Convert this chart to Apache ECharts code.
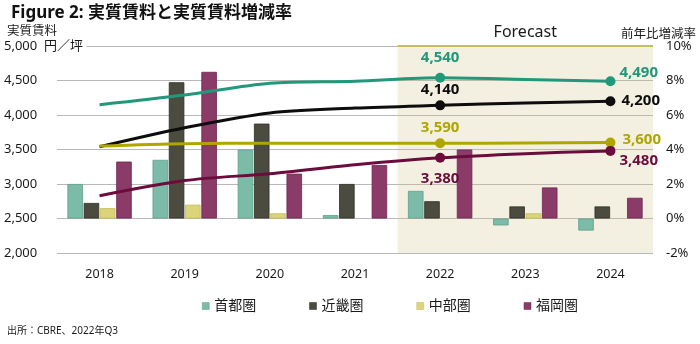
<!DOCTYPE html>
<html><head><meta charset="utf-8">
<script src="https://cdn.jsdelivr.net/npm/echarts@6/dist/echarts.min.js"></script>
<style>html,body{margin:0;padding:0;background:#fff}#c{width:700px;height:344px}</style>
</head><body><div id="c"></div>
<script>
// ---- data ----
const years = ['2018','2019','2020','2021','2022','2023','2024'];
const regions = ['首都圏','近畿圏','中部圏','福岡圏'];
// growth rates (%) – bars, right axis
const growthShutoken = [2.0, 3.4, 4.0, 0.2, 1.6, -0.4, -0.7];
const growthKinki    = [0.9, 7.9, 5.5, 2.0, 1.0, 0.7, 0.7];
const growthChubu    = [0.6, 0.8, 0.3, 0.0, 0.0, 0.3, 0.0];
const growthFukuoka  = [3.3, 8.5, 2.6, 3.1, 4.0, 1.8, 1.2];
// real rents (円/坪) – lines, left axis
const rentShutoken = [4150, 4290, 4460, 4490, 4540, 4515, 4490];
const rentKinki    = [3540, 3815, 4030, 4100, 4140, 4175, 4200];
const rentChubu    = [3550, 3585, 3590, 3590, 3590, 3595, 3600];
const rentFukuoka  = [2830, 3050, 3150, 3280, 3380, 3440, 3480];
const leftTicks = [2000, 5000, 500];
const rightTicks = [-2, 10, 2];
const forecastFrom = '2022';
const labeledYears = ['2022', '2024'];

const barColors = [['#7cbba7','#5f9f8b'],['#4b4b40','#2f2f27'],['#dbd47a','#c4bc55'],['#8b3b68','#6e2450']];
const lineColors = ['#22987b','#0d0d0d','#b0a600','#6b0c3d'];
const growth = [growthShutoken, growthKinki, growthChubu, growthFukuoka];
const rents = [rentShutoken, rentKinki, rentChubu, rentFukuoka];

const fmt = v => v.toLocaleString('en-US');
const FONT = '"Noto Sans","Noto Sans CJK JP",sans-serif';

// label placement per line: [at 2022], [at 2024]
const lblCfg = [
  [{position:'top', distance:8, offset:[0,0]}, {position:'right', distance:4, offset:[0,-8]}],
  [{position:'top', distance:3, offset:[0,0]}, {position:'right', distance:6, offset:[0,0]}],
  [{position:'top', distance:3, offset:[0,0]}, {position:'right', distance:7, offset:[0,-3]}],
  [{position:'bottom', distance:8, offset:[0,0]}, {position:'right', distance:4, offset:[0,10]}]
];

const series = [];
regions.forEach((r, i) => {
  series.push({
    name: r, type: 'bar', xAxisIndex: 0, yAxisIndex: 1,
    data: growth[i].map(v => v === 0 ? {value: v, itemStyle: {borderWidth: 0}} : v),
    barWidth: 15.5, barGap: '5%',
    itemStyle: {color: barColors[i][0], borderColor: barColors[i][1], borderWidth: 0.8},
    emphasis: {disabled: true}
  });
});
regions.forEach((r, i) => {
  const data = rents[i].map((v, k) => {
    const li = labeledYears.indexOf(years[k]);
    if (li < 0) return {value: v, symbolSize: 0};
    const c = lblCfg[i][li];
    return {
      value: v, symbol: 'circle', symbolSize: 10,
      label: {show: true, position: c.position, distance: c.distance, offset: c.offset,
        formatter: p => fmt(p.value), color: lineColors[i], fontSize: 15, fontWeight: 'bold', fontFamily: FONT}
    };
  });
  series.push({
    name: r + '実質賃料', type: 'line', xAxisIndex: 0, yAxisIndex: 0,
    data: data, smooth: 0.3, symbol: 'circle', showSymbol: true, showAllSymbol: true,
    lineStyle: {color: lineColors[i], width: 3},
    itemStyle: {color: lineColors[i]},
    emphasis: {disabled: true}, z: 5
  });
});
const fIdx = years.indexOf(forecastFrom) - 0.5;
const lastIdx = years.length - 0.5;
series.push({
  type: 'line', xAxisIndex: 1, yAxisIndex: 0, data: [], silent: true, z: 1,
  markArea: {silent: true, itemStyle: {color: 'rgba(206,194,130,0.24)'},
    label: {show: true, position: 'top', distance: 6, formatter: 'Forecast', color: '#1a1a1a', fontSize: 16, fontFamily: FONT},
    data: [[{xAxis: fIdx, yAxis: leftTicks[0]}, {xAxis: lastIdx, yAxis: leftTicks[1]}]]}
});
series.push({
  type: 'line', xAxisIndex: 1, yAxisIndex: 0, data: [], silent: true, z: 3,
  markLine: {silent: true, symbol: 'none', label: {show: false},
    lineStyle: {color: '#c6bf55', width: 2, type: 'solid'},
    data: [[{coord: [fIdx, leftTicks[1]]}, {coord: [lastIdx, leftTicks[1]]}]]}
});

const chart = echarts.init(document.getElementById('c'), null, {renderer: 'canvas'});
chart.setOption({
  animation: false,
  textStyle: {fontFamily: FONT},
  title: {text: 'Figure 2: 実質賃料と実質賃料増減率', left: 6, top: 0,
    textStyle: {fontSize: 17, fontWeight: 'bold', color: '#111', fontFamily: FONT}},
  graphic: [
    {type: 'text', left: 7, top: 25, style: {text: '実質賃料', fontSize: 12.5, fill: '#1a1a1a', fontFamily: FONT}},
    {type: 'text', right: 4, top: 28, style: {text: '前年比増減率', fontSize: 12.5, fill: '#1a1a1a', fontFamily: FONT}},
    {type: 'text', left: 7, top: 326, style: {text: '出所：CBRE、2022年Q3', fontSize: 10, fill: '#1a1a1a', fontFamily: FONT}}
  ],
  legend: {data: regions, left: 197, top: 294, icon: 'rect', itemWidth: 7, itemHeight: 7,
    itemGap: 53, itemStyle: {borderWidth: 0.5},
    textStyle: {fontSize: 14, color: '#1a1a1a', fontFamily: FONT}},
  grid: {left: 57, right: 47, top: 46, bottom: 91, containLabel: false},
  xAxis: [
    {type: 'category', data: years, axisLine: {show: false}, axisTick: {show: false},
      axisLabel: {margin: 15, fontSize: 12.5, color: '#1a1a1a'}},
    {type: 'value', min: -0.5, max: years.length - 0.5, show: false}
  ],
  yAxis: [
    {type: 'value', min: leftTicks[0], max: leftTicks[1], interval: leftTicks[2],
      axisLine: {show: false}, axisTick: {show: false},
      splitLine: {lineStyle: {color: '#b8b8b8', width: 1}},
      axisLabel: {align: 'left', margin: 53, fontSize: 13, color: '#1a1a1a',
        formatter: v => v === leftTicks[1] ? '{n|' + fmt(v) + '}{u|  円／坪 }' : fmt(v),
        rich: {n: {fontSize: 13, color: '#1a1a1a'}, u: {fontSize: 13, color: '#1a1a1a', backgroundColor: '#fff', padding: [2, 0, 2, 0]}}}},
    {type: 'value', min: rightTicks[0], max: rightTicks[1], interval: rightTicks[2],
      axisLine: {show: false}, axisTick: {show: false}, splitLine: {show: false},
      axisLabel: {align: 'left', margin: 13, fontSize: 13, color: '#1a1a1a', formatter: '{value}%'}}
  ],
  series: series
});
</script></body></html>
